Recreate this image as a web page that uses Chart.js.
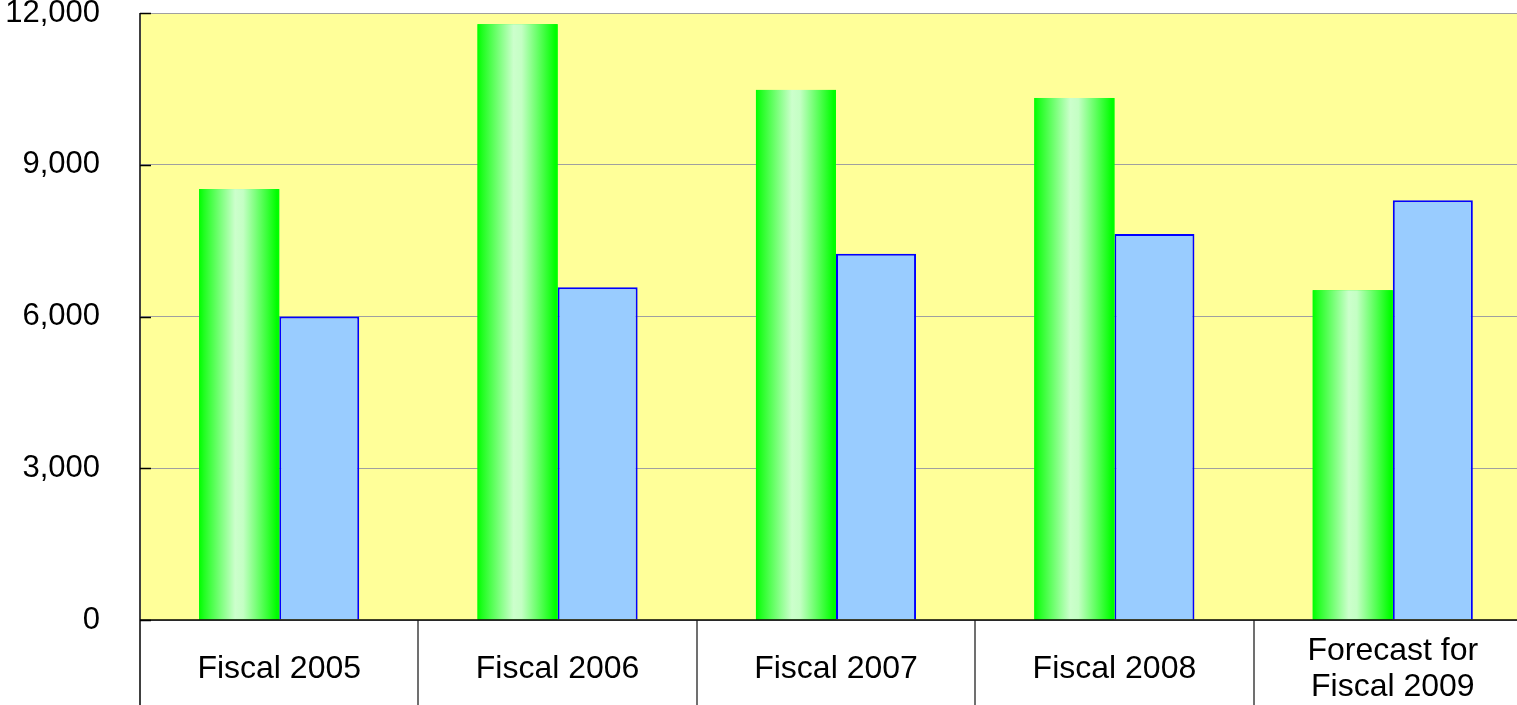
<!DOCTYPE html>
<html>
<head>
<meta charset="utf-8">
<script src="https://cdn.jsdelivr.net/npm/chart.js@4.4.0/dist/chart.umd.min.js"></script>
<style>
  html, body { margin: 0; padding: 0; background: #fff; overflow: hidden; }
  #wrap { width: 1517px; height: 705px; overflow: hidden; }
</style>
</head>
<body>
<!-- the plot runs slightly past the right edge of the window, as in the original -->
<div id="wrap"><canvas id="chart" width="1532" height="705"></canvas></div>
<script>
const categories = ['Fiscal 2005', 'Fiscal 2006', 'Fiscal 2007', 'Fiscal 2008', ['Forecast for', 'Fiscal 2009']];
const greenValues = [8520, 11780, 10480, 10320, 6520];
const blueValues = [6000, 6580, 7240, 7630, 8300];
const yTicks = [0, 3000, 6000, 9000, 12000];

const FONT = "'Liberation Sans', Arial, sans-serif";

// green bars get a cylinder-like horizontal gradient, painted over the bar elements
const cylinderFill = {
    id: 'cylinderFill',
    afterDatasetDraw(chart, args) {
        if (args.index !== 0) return;
        const c = chart.ctx;
        const a = chart.chartArea;
        c.save();
        c.beginPath();
        c.rect(a.left, a.top, a.right - a.left, a.bottom - a.top);
        c.clip();
        args.meta.data.forEach(el => {
            const p = el.getProps(['x', 'y', 'base', 'width'], true);
            const l = p.x - p.width / 2;
            const g = c.createLinearGradient(l, 0, l + p.width, 0);
            g.addColorStop(0, '#00ff00');
            g.addColorStop(0.06, '#20ff20');
            g.addColorStop(0.45, '#ccffcc');
            g.addColorStop(0.55, '#c4ffc4');
            g.addColorStop(0.97, '#00ff00');
            g.addColorStop(1, '#00ff00');
            c.fillStyle = g;
            c.fillRect(l, p.y, p.width, p.base - p.y);
        });
        c.restore();
    }
};

const plotDecor = {
    id: 'plotDecor',
    beforeDraw(chart) {
        const a = chart.chartArea;
        const c = chart.ctx;
        c.save();
        c.fillStyle = '#ffff99';
        c.fillRect(a.left, a.top, a.right - a.left, a.bottom - a.top);
        c.restore();
    },
    afterDraw(chart) {
        const a = chart.chartArea;
        const c = chart.ctx;
        const xs = chart.scales.x;
        const ys = chart.scales.y;
        const catW = xs.width / categories.length;
        c.save();
        // category separators below the plot
        c.strokeStyle = '#707070';
        c.lineWidth = 2;
        for (let i = 1; i < categories.length; i++) {
            const x = Math.round(xs.getPixelForValue(i) - catW / 2);
            c.beginPath();
            c.moveTo(x, a.bottom);
            c.lineTo(x, chart.height);
            c.stroke();
        }
        // left axis
        c.strokeStyle = '#404040';
        c.lineWidth = 2;
        c.beginPath();
        c.moveTo(a.left, a.top);
        c.lineTo(a.left, chart.height);
        c.stroke();
        // bottom axis
        c.strokeStyle = '#000';
        c.lineWidth = 1.5;
        c.beginPath();
        c.moveTo(a.left, a.bottom);
        c.lineTo(a.right, a.bottom);
        c.stroke();
        // inner tick marks
        yTicks.forEach(v => {
            const y = Math.round(ys.getPixelForValue(v)) + 0.5;
            c.beginPath();
            c.moveTo(a.left, y);
            c.lineTo(a.left + 11, y);
            c.stroke();
        });
        c.restore();
    }
};

new Chart(document.getElementById('chart'), {
    type: 'bar',
    data: {
        labels: categories,
        datasets: [
            {
                data: greenValues,
                backgroundColor: '#00ff00',
                borderWidth: 0
            },
            {
                data: blueValues,
                backgroundColor: '#99ccff',
                borderColor: '#0000ff',
                borderWidth: 2
            }
        ]
    },
    options: {
        responsive: false,
        animation: false,
        categoryPercentage: 0.575,
        barPercentage: 1,
        layout: { padding: { left: 0, top: 13, right: 0, bottom: 0 } },
        plugins: {
            legend: { display: false },
            tooltip: { enabled: false }
        },
        scales: {
            x: {
                grid: { display: false, drawTicks: false },
                border: { display: false },
                ticks: {
                    color: '#000',
                    font: { family: FONT, size: 32, lineHeight: 1.125 },
                    padding: 31,
                    crossAlign: 'center',
                    maxRotation: 0,
                    autoSkip: false
                },
                afterFit(scale) {
                    scale.height = 85;
                    scale.paddingLeft = 0;
                    scale.paddingRight = 0;
                }
            },
            y: {
                min: 0,
                max: 12000,
                afterBuildTicks(scale) {
                    scale.ticks = yTicks.map(v => ({ value: v }));
                },
                grid: {
                    color: '#a0a0a0',
                    lineWidth: 1,
                    drawTicks: false
                },
                border: { display: false },
                ticks: {
                    color: '#000',
                    font: { family: FONT, size: 31 },
                    padding: 40,
                    callback: v => v.toLocaleString('en-US')
                },
                afterFit(scale) {
                    scale.width = 140;
                    scale.paddingTop = 0;
                    scale.paddingBottom = 0;
                }
            }
        }
    },
    plugins: [plotDecor, cylinderFill]
});
</script>
</body>
</html>
